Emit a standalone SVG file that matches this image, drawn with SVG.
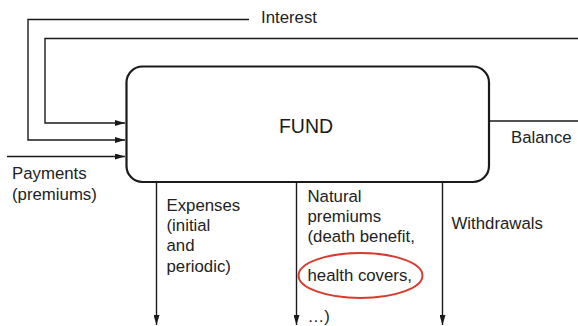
<svg xmlns="http://www.w3.org/2000/svg" width="578" height="326" viewBox="0 0 578 326">
  <defs>
    <marker id="arrow" viewBox="0 0 10 6" refX="10" refY="3" markerWidth="10" markerHeight="6" markerUnits="userSpaceOnUse" orient="auto">
      <path d="M0,0 L10,3 L0,6 Z" fill="#1a1a1a"/>
    </marker>
  </defs>
  <style>
    .lbl { font-family: "Liberation Sans", Arial, sans-serif; font-size: 16.8px; fill: #222; }
    .title { font-family: "Liberation Sans", Arial, sans-serif; font-size: 19.5px; fill: #1a1a1a; }
    .line { fill: none; stroke: #1a1a1a; stroke-width: 1.4; }
    .arr { fill: none; stroke: #1a1a1a; stroke-width: 1.4; marker-end: url(#arrow); }
    .box { fill: #fff; stroke: #1a1a1a; stroke-width: 2.2; }
  </style>
  <rect width="578" height="326" fill="#fff"/>

  <!-- flows in and out of the fund -->
  <g id="connectors">
    <!-- interest loop -->
    <polyline class="arr" points="249,19.5 28,19.5 28,140 125,140"/>
    <!-- balance loop -->
    <polyline class="arr" points="578,38.5 45,38.5 45,123 125,123"/>
    <!-- payments -->
    <line class="arr" x1="7" y1="156.5" x2="125" y2="156.5"/>
    <!-- balance out -->
    <line class="line" x1="489" y1="121" x2="578" y2="121"/>
    <!-- outflows -->
    <line class="arr" x1="156.5" y1="182" x2="156.5" y2="325"/>
    <line class="arr" x1="296.5" y1="182" x2="296.5" y2="325"/>
    <line class="arr" x1="442.5" y1="182" x2="442.5" y2="325"/>
  </g>

  <g id="fund">
    <rect class="box" x="126.5" y="66.5" width="362.5" height="115.5" rx="16" ry="16"/>
    <text class="title" x="306" y="132.5" text-anchor="middle">FUND</text>
  </g>

  <g id="interest">
    <text class="lbl" x="261" y="23">Interest</text>
  </g>
  <g id="balance">
    <text class="lbl" x="511" y="143">Balance</text>
  </g>
  <g id="payments">
    <text class="lbl" x="12" y="179">Payments</text>
    <text class="lbl" x="12" y="200">(premiums)</text>
  </g>
  <g id="expenses">
    <text class="lbl" x="166.5" y="210.5">Expenses</text>
    <text class="lbl" x="166.5" y="231">(initial</text>
    <text class="lbl" x="166.5" y="251">and</text>
    <text class="lbl" x="166.5" y="271.5">periodic)</text>
  </g>
  <g id="natural-premiums">
    <text class="lbl" x="307.5" y="202">Natural</text>
    <text class="lbl" x="307.5" y="222">premiums</text>
    <text class="lbl" x="307.5" y="242">(death benefit,</text>
    <text class="lbl" x="307.5" y="281">health covers,</text>
    <text class="lbl" x="307.5" y="322">…)</text>
    <ellipse cx="360.5" cy="275.5" rx="62" ry="22.5" fill="none" stroke="#d93a2e" stroke-width="2"/>
  </g>
  <g id="withdrawals">
    <text class="lbl" x="451.5" y="229">Withdrawals</text>
  </g>
</svg>
